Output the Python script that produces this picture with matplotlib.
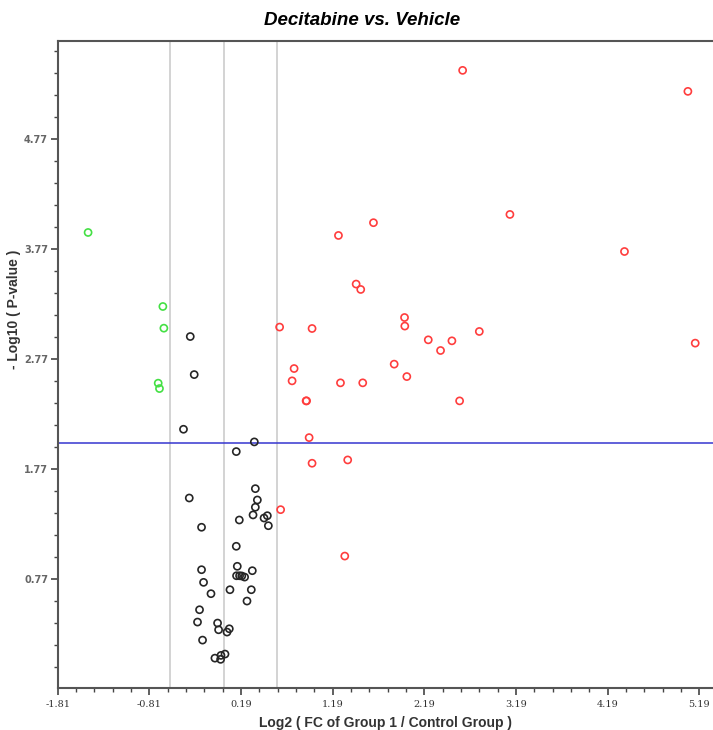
import numpy as np
import matplotlib
matplotlib.use("Agg")
from matplotlib import pyplot as plt
from matplotlib.ticker import FixedLocator

# log2 fold change / -log10 p-value
down_fc = [-1.479, -0.663, -0.652, -0.714, -0.700]
down_p = [3.918, 3.245, 3.048, 2.548, 2.499]

ns_fc = [-0.364, -0.321, -0.438, 0.335, 0.138, 0.346, -0.375, 0.368, 0.346,
         0.321, 0.441, 0.477, 0.488, 0.171, -0.241, 0.138, -0.241, 0.149,
         0.313, 0.141, 0.174, 0.229, 0.198, -0.219, -0.138, 0.069, 0.302,
         0.255, -0.263, -0.285, -0.066, -0.055, 0.037, 0.062, -0.230,
         -0.095, -0.029, 0.015, -0.033]
ns_p = [2.972, 2.626, 2.129, 2.014, 1.926, 1.589, 1.504, 1.486, 1.420,
        1.350, 1.322, 1.343, 1.252, 1.304, 1.238, 1.065, 0.852, 0.883,
        0.843, 0.797, 0.797, 0.785, 0.795, 0.737, 0.634, 0.670, 0.670,
        0.567, 0.488, 0.376, 0.367, 0.306, 0.285, 0.315, 0.212,
        0.048, 0.073, 0.085, 0.037]

up_fc = [2.608, 5.066, 3.124, 1.635, 1.253, 4.374, 1.446, 1.496, 1.974,
         1.977, 0.611, 0.965, 2.790, 2.233, 2.491, 5.146, 2.367, 1.861,
         0.769, 1.999, 0.747, 1.275, 1.518, 0.900, 0.905, 2.575, 0.933,
         1.354, 0.965, 0.622, 1.322]
up_p = [5.392, 5.201, 4.082, 4.007, 3.891, 3.745, 3.449, 3.400, 3.145,
        3.067, 3.058, 3.045, 3.018, 2.942, 2.933, 2.912, 2.845, 2.721,
        2.681, 2.608, 2.569, 2.551, 2.551, 2.387, 2.387, 2.387, 2.053,
        1.850, 1.820, 1.398, 0.976]

fc_cutoffs = [np.log2(2 / 3), 0.0, np.log2(1.5)]
p_cutoff = 2.0

x_ticks = [-1.81, -0.81, 0.19, 1.19, 2.19, 3.19, 4.19, 5.19]
y_ticks = [0.77, 1.77, 2.77, 3.77, 4.77]

fig = plt.figure(figsize=(7.13, 7.30), dpi=100)
ax = fig.add_axes([0.081, 0.057, 0.919, 0.887])

for xv in fc_cutoffs:
    ax.axvline(xv, color="#cccccc", lw=1.2, zorder=1)
ax.axhline(p_cutoff, color="#3535d0", lw=1.1, zorder=2)

mk = dict(s=26, facecolors="none", linewidths=1.2, zorder=3)
ax.scatter(ns_fc, ns_p, edgecolors="#262626", **mk)
ax.scatter(down_fc, down_p, edgecolors="#44e044", **mk)
ax.scatter(up_fc, up_p, edgecolors="#ff3d3d", **mk)

ax.set_xlim(-1.81, 5.34)
ax.set_ylim(-0.227, 5.66)

ax.xaxis.set_major_locator(FixedLocator(x_ticks))
ax.yaxis.set_major_locator(FixedLocator(y_ticks))
ax.xaxis.set_minor_locator(FixedLocator(np.arange(-1.81, 5.34, 0.2)))
ax.yaxis.set_minor_locator(FixedLocator(np.arange(-0.23, 5.66, 0.2)))
ax.set_xticklabels([f"{t:.2f}" for t in x_ticks], fontsize=7,
                   family="DejaVu Serif", color="#333333")
ax.set_yticklabels([f"{t:.2f}" for t in y_ticks], fontsize=7,
                   family="DejaVu Sans", fontweight="bold", color="#666666")
ax.tick_params(which="major", direction="out", length=5, width=1.2,
               color="#444444", pad=3)
ax.tick_params(axis="y", which="major", pad=2)
ax.tick_params(which="minor", direction="out", length=3, width=1.0,
               color="#444444")

for side in ["left", "bottom", "top"]:
    ax.spines[side].set_color("#555555")
    ax.spines[side].set_linewidth(1.5)
ax.spines["right"].set_visible(False)

ax.set_xlabel("Log2 ( FC of Group 1 / Control Group )", fontsize=10,
              fontweight="bold", family="Liberation Sans", color="#333333")
ax.set_ylabel("- Log10 ( P-value )", fontsize=10, fontweight="bold",
              family="Liberation Sans", color="#333333")
ax.xaxis.set_label_coords(0.5, -0.042)
ax.yaxis.set_label_coords(-0.056, 0.585)
fig.text(0.508, 0.972, "Decitabine vs. Vehicle", ha="center", va="center",
         fontsize=13.5, fontweight="bold", style="italic",
         family="Liberation Sans")

fig.savefig("out.png", dpi=100)
